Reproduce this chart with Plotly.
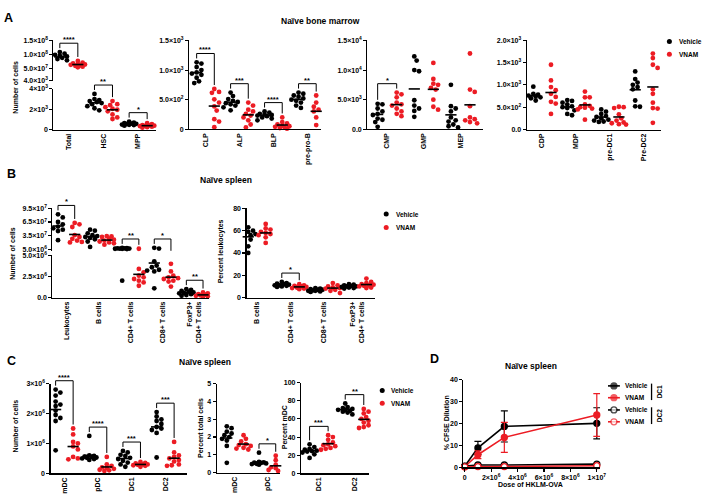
import plotly.graph_objects as go

W, H = 714, 501
FONT = "Liberation Sans, Arial, Helvetica, sans-serif"
RED = "#ec1c24"
BLACK = "#000000"

# ===================== DATA =====================
GROUPS = ["Vehicle", "VNAM"]

# ---- Panel A : naive bone marrow (number of cells) ----
A1_CATS = ["Total", "HSC", "MPP"]
A1_VEH = [
    [1.08e8, 1.02e8, 9.8e7, 9.5e7, 9.2e7, 9.0e7, 8.7e7, 8.3e7, 7.8e7, 7.2e7],
    [3500, 3000, 2900, 2800, 2700, 2600, 2500, 2300, 2100, 1900],
    [800, 700, 650, 600, 580, 550, 500, 480, 450, 400],
]
A1_VNAM = [
    [7.6e7, 7.0e7, 6.7e7, 6.5e7, 6.3e7, 6.2e7, 6.0e7, 5.8e7, 5.5e7, 5.3e7],
    [2800, 2500, 2400, 2200, 2050, 1950, 1800, 1500, 1200, 1050],
    [650, 550, 450, 420, 400, 380, 350, 300, 250, 200],
]
A1_SIG = ["****", "**", "*"]
A1_LO_TICKVALS = [0, 2000, 4000]
A1_LO_TICKTEXT = ["0", "2×10<sup>3</sup>", "4×10<sup>3</sup>"]
A1_UP_TICKVALS = [5e7, 1e8, 1.5e8]
A1_UP_TICKTEXT = ["5.0×10<sup>7</sup>", "1.0×10<sup>8</sup>", "1.5×10<sup>8</sup>"]
A1_UP_BASE_TEXT = "4.0×10<sup>3</sup>"

A2_CATS = ["CLP", "ALP", "BLP", "pre-pro-B"]
A2_VEH = [
    [1130, 1110, 1050, 1000, 960, 940, 920, 870, 810, 780],
    [620, 560, 510, 480, 460, 440, 420, 400, 370, 320],
    [300, 280, 260, 250, 240, 230, 220, 200, 180, 150],
    [620, 600, 570, 550, 520, 500, 480, 450, 400, 360],
]
A2_VNAM = [
    [680, 630, 615, 505, 450, 385, 315, 170, 130, 35],
    [450, 400, 330, 300, 260, 230, 200, 150, 80, 30],
    [200, 120, 100, 80, 60, 50, 40, 30, 20, 10],
    [570, 450, 420, 380, 330, 300, 280, 200, 70, 30],
]
A2_SIG = ["****", "***", "****", "**"]
A2_TICKVALS = [0, 500, 1000, 1500]
A2_TICKTEXT = ["0", "5.0×10<sup>2</sup>", "1.0×10<sup>3</sup>", "1.5×10<sup>3</sup>"]

A3_CATS = ["CMP", "GMP", "MEP"]
A3_VEH = [
    [4300, 4200, 3500, 3000, 2600, 2400, 1800, 1600, 1200, 400],
    [12300, 11600, 10000, 9800, 4900, 4000, 3500, 3100, 2100],
    [7500, 3900, 3500, 3000, 2000, 1500, 1300, 800, 500, 300],
]
A3_VNAM = [
    [6200, 5900, 5400, 4500, 4200, 4000, 3500, 3000, 2600, 2200],
    [11200, 8500, 7700, 7500, 7000, 6700, 5000, 3800, 3300],
    [12800, 6700, 6300, 3900, 2000, 1700, 1500, 1200, 1000],
]
A3_SIG = ["*", "", ""]
A3_TICKVALS = [0, 5000, 10000, 15000]
A3_TICKTEXT = ["0.0", "5.0×10<sup>3</sup>", "1.0×10<sup>4</sup>", "1.5×10<sup>4</sup>"]

A4_CATS = ["CDP", "MDP", "pre-DC1", "Pre-DC2"]
A4_VEH = [
    [960, 800, 780, 760, 740, 720, 700, 680, 650],
    [660, 640, 600, 560, 520, 500, 480, 430, 350, 320],
    [450, 400, 350, 300, 280, 250, 220, 200, 180, 170],
    [1300, 1130, 1050, 1000, 950, 900, 650, 520, 510],
]
A4_VNAM = [
    [1450, 1100, 950, 880, 800, 730, 620, 580, 350],
    [850, 720, 720, 560, 530, 500, 490, 470, 450, 220],
    [510, 500, 480, 340, 250, 200, 160, 140, 120, 110],
    [1700, 1600, 1450, 1380, 900, 800, 600, 480, 470, 150],
]
A4_SIG = ["", "", "", ""]
A4_TICKVALS = [0, 500, 1000, 1500, 2000]
A4_TICKTEXT = ["0.0", "5.0×10<sup>2</sup>", "1.0×10<sup>3</sup>", "1.5×10<sup>3</sup>", "2.0×10<sup>3</sup>"]

# ---- Panel B : naive spleen ----
B1_CATS = ["Leukocytes", "B cells", "CD4+ T cells", "CD8+ T cells", "FoxP3+<br>CD4+ T cells"]
B1_VEH = [
    [8.2e7, 7.5e7, 6.5e7, 6.0e7, 5.5e7, 5.1e7, 4.8e7, 4.5e7, 2.5e7],
    [4.8e7, 4.6e7, 4.0e7, 3.6e7, 3.4e7, 3.2e7, 3.0e7, 2.7e7, 2.2e7, 1.0e7],
    [8.0e6, 7.5e6, 7.0e6, 6.8e6, 6.5e6, 6.2e6, 6.0e6, 5.8e6, 5.5e6, 2.0e6],
    [8.0e6, 6.5e6, 4.3e6, 3.8e6, 3.6e6, 3.3e6, 3.2e6, 3.1e6, 1.1e6],
    [1.0e6, 0.9e6, 0.8e6, 0.7e6, 0.6e6, 0.55e6, 0.5e6, 0.4e6, 0.3e6, 0.2e6],
]
B1_VNAM = [
    [6.3e7, 6.0e7, 5.4e7, 3.6e7, 3.2e7, 2.8e7, 2.4e7, 2.1e7, 2.0e7],
    [3.4e7, 3.3e7, 3.2e7, 2.8e7, 2.6e7, 2.4e7, 2.2e7, 2.0e7, 1.8e7, 1.5e7],
    [6.0e6, 3.4e6, 3.0e6, 2.6e6, 2.4e6, 2.2e6, 2.0e6, 1.8e6, 1.4e6],
    [4.0e6, 3.1e6, 2.6e6, 2.4e6, 2.3e6, 2.2e6, 2.0e6, 1.9e6, 1.3e6],
    [0.6e6, 0.5e6, 0.4e6, 0.35e6, 0.3e6, 0.25e6, 0.2e6, 0.15e6, 0.1e6],
]
B1_SIG = ["*", "", "**", "*", "**"]
B1_LO_TICKVALS = [0, 2.5e6, 5e6]
B1_LO_TICKTEXT = ["0.0", "2.5×10<sup>6</sup>", "5.0×10<sup>6</sup>"]
B1_UP_TICKVALS = [5e6, 3.5e7, 6.5e7, 9.5e7]
B1_UP_TICKTEXT = ["5.0×10<sup>6</sup>", "3.5×10<sup>7</sup>", "6.5×10<sup>7</sup>", "9.5×10<sup>7</sup>"]

B2_CATS = ["B cells", "CD4+ T cells", "CD8+ T cells", "FoxP3+<br>CD4+ T cells"]
B2_VEH = [
    [63, 60, 59, 58, 57, 56, 54, 52, 46, 40],
    [14, 13, 12.5, 12, 11.5, 11, 11, 10.5, 10, 9.5],
    [8.5, 8, 7.5, 7, 7, 6.5, 6, 6, 5.5, 5],
    [12, 11.5, 11, 10.5, 10, 10, 9.5, 9, 8.5, 8],
]
B2_VNAM = [
    [66, 62, 61, 59, 58, 57, 56, 54, 49],
    [12, 11, 10.5, 10, 9.5, 9, 8.5, 8, 7.5],
    [13, 11, 10, 9, 8.5, 8, 7, 6, 4],
    [17, 14, 13, 12, 11.5, 11, 10.5, 10, 9, 8.5],
]
B2_SIG = ["", "*", "", ""]
B2_TICKVALS = [0, 20, 40, 60, 80]
B2_TICKTEXT = ["0", "20", "40", "60", "80"]

# ---- Panel C : naive spleen DCs ----
C1_CATS = ["mDC", "pDC", "DC1", "DC2"]
C1_VEH = [
    [2.8e6, 2.7e6, 2.6e6, 2.4e6, 2.3e6, 2.25e6, 2.1e6, 1.95e6, 1.85e6, 1.75e6, 0.77e6],
    [1.25e6, 0.6e6, 0.58e6, 0.56e6, 0.55e6, 0.53e6, 0.52e6, 0.5e6, 0.48e6, 0.45e6],
    [0.75e6, 0.7e6, 0.62e6, 0.58e6, 0.52e6, 0.48e6, 0.42e6, 0.36e6, 0.3e6, 0.22e6],
    [2.05e6, 1.9e6, 1.8e6, 1.75e6, 1.65e6, 1.55e6, 1.5e6, 1.45e6, 1.35e6, 0.53e6],
]
C1_VNAM = [
    [1.5e6, 1.3e6, 1.05e6, 1.0e6, 0.9e6, 0.8e6, 0.55e6, 0.5e6, 0.47e6],
    [0.55e6, 0.3e6, 0.25e6, 0.2e6, 0.18e6, 0.15e6, 0.12e6, 0.1e6, 0.08e6],
    [0.38e6, 0.35e6, 0.33e6, 0.3e6, 0.3e6, 0.28e6, 0.27e6, 0.25e6, 0.22e6],
    [1.05e6, 0.7e6, 0.6e6, 0.55e6, 0.5e6, 0.45e6, 0.4e6, 0.3e6, 0.27e6, 0.25e6],
]
C1_SIG = ["****", "****", "***", "***"]
C1_TICKVALS = [0, 1e6, 2e6, 3e6]
C1_TICKTEXT = ["0", "1×10<sup>6</sup>", "2×10<sup>6</sup>", "3×10<sup>6</sup>"]

C2_CATS = ["mDC", "pDC"]
C2_VEH = [
    [2.6, 2.5, 2.3, 2.2, 2.1, 2.0, 1.9, 1.8, 1.5, 0.55],
    [1.12, 0.6, 0.58, 0.56, 0.55, 0.52, 0.5, 0.48, 0.45],
]
C2_VNAM = [
    [2.1, 1.9, 1.75, 1.6, 1.55, 1.5, 1.4, 1.35, 1.3],
    [0.95, 0.7, 0.45, 0.35, 0.3, 0.25, 0.2, 0.15, 0.1],
]
C2_SIG = ["", "*"]
C2_TICKVALS = [0, 1, 2, 3, 4, 5]
C2_TICKTEXT = ["0", "1", "2", "3", "4", "5"]

C3_CATS = ["DC1", "DC2"]
C3_VEH = [
    [32, 29, 27, 26, 25, 24.5, 24, 23, 21, 17],
    [77, 73, 72, 71, 70, 70, 69, 68, 67, 65],
]
C3_VNAM = [
    [42, 40, 37, 34, 32, 31, 30, 28, 27, 26],
    [71, 68, 66, 62, 60, 58, 56, 53, 51, 50],
]
C3_SIG = ["***", "**"]
C3_TICKVALS = [0, 20, 40, 60, 80, 100]
C3_TICKTEXT = ["0", "20", "40", "60", "80", "100"]

# ---- Panel D : CFSE dilution vs dose ----
D_DOSE = [0, 1e6, 3e6, 1e7]
D_DC1_VEH = [0.5, 8.9, 18.7, 20.1]
D_DC1_VEH_ERR = [0.3, 3.0, 7.1, 7.1]
D_DC1_VNAM = [0.3, 5.8, 13.7, 23.9]
D_DC1_VNAM_ERR = [0.2, 1.8, 6.8, 9.7]
D_DC2_VEH = [0.6, 1.1, 1.1, 1.5]
D_DC2_VEH_ERR = [0.2, 0.3, 0.3, 0.3]
D_DC2_VNAM = [0.3, 0.4, 0.4, 0.8]
D_DC2_VNAM_ERR = [0.1, 0.2, 0.2, 0.3]
D_XTICKVALS = [0, 2e6, 4e6, 6e6, 8e6, 1e7]
D_XTICKTEXT = ["0", "2×10<sup>6</sup>", "4×10<sup>6</sup>", "6×10<sup>6</sup>", "8×10<sup>6</sup>", "1×10<sup>7</sup>"]
D_YTICKVALS = [0, 10, 20, 30, 40]
D_YTICKTEXT = ["0", "10", "20", "30", "40"]
D_LEGEND = ["Vehicle", "VNAM", "Vehicle", "VNAM"]

# ===================== HELPERS =====================
fig = go.Figure()
LAYOUT = {}
ANN = []
SHAPES = []
OFF = 0.26     # group offset from category centre (category units)
DOT = 4.8      # marker diameter in px

AXIS_BASE = dict(showgrid=False, zeroline=False, showline=True, linecolor=BLACK, linewidth=1.2,
                 ticks="outside", ticklen=3, tickwidth=1.1, tickcolor=BLACK, fixedrange=True,
                 tickfont=dict(family=FONT, size=7, color=BLACK, weight="bold"))
cnt = {"x": 0, "y": 0}


def akey(ref):
    return ref[0] + "axis" + ref[1:]


def new_axis(kind, **kw):
    cnt[kind] += 1
    n = cnt[kind]
    ref = kind + ("" if n == 1 else str(n))
    d = dict(AXIS_BASE)
    d.update(kw)
    LAYOUT[akey(ref)] = d
    return ref


class YSeg:
    def __init__(self, va, pa, vb, pb, top, bot):
        self.va, self.pa = va, pa
        self.k = (vb - va) / (pb - pa)
        self.top, self.bot = top, bot
        self.lo = self.val(bot)
        self.hi = self.val(top)

    def val(self, p):
        return self.va + (p - self.pa) * self.k

    def px(self, v):
        return self.pa + (v - self.va) / self.k


def text(x, y, s, size=7.0, xanchor="center", yanchor="middle", angle=0, color=BLACK):
    ANN.append(dict(x=x / W, y=1 - y / H, xref="paper", yref="paper", text=s, showarrow=False,
                    xanchor=xanchor, yanchor=yanchor, textangle=angle,
                    font=dict(family=FONT, size=size, color=color, weight="bold")))


def swarm_offsets(ypx, d=DOT * 0.9, step=DOT * 0.5, maxk=3):
    order = sorted(range(len(ypx)), key=lambda i: ypx[i])
    cands = [0.0]
    for k in range(1, maxk + 1):
        cands += [k * step, -k * step]
    placed, offs = [], [0.0] * len(ypx)
    for i in order:
        y = ypx[i]
        best, bestd = 0.0, -1.0
        for c in cands:
            md = min([((c - px) ** 2 + (y - py) ** 2) ** 0.5 for px, py in placed] or [1e9])
            if md >= d:
                best = c
                break
            if md > bestd:
                bestd, best = md, c
        offs[i] = best
        placed.append((best, y))
    return offs


def strip_panel(cats, veh, vnam, sig, xl, xr, c0, sp, segspec, thr=None, base_text=None):
    n = len(cats)
    segs = []
    for (va, pa, vb, pb), (top, bot), tv, tt in segspec:
        s = YSeg(va, pa, vb, pb, top, bot)
        tv, tt = list(tv), list(tt)
        if base_text is not None and len(segs) == 1:
            tv = [s.lo + (s.hi - s.lo) * 1e-4] + tv
            tt = [base_text] + tt
        s.ref = new_axis("y", domain=[1 - bot / H, 1 - top / H], range=[s.lo, s.hi],
                         tickvals=tv, ticktext=tt)
        segs.append(s)
    xref = new_axis("x", domain=[xl / W, xr / W], range=[(xl - c0) / sp, (xr - c0) / sp],
                    tickvals=list(range(n)), ticktext=cats, tickangle=-90, ticks="",
                    tickfont=dict(family=FONT, size=7, color=BLACK, weight="bold"),
                    anchor=segs[0].ref)
    for s in segs:
        LAYOUT[akey(s.ref)]["anchor"] = xref

    def seg_of(v):
        return segs[-1] if (thr is not None and v > thr) else segs[0]

    def xpx(xv):
        return c0 + xv * sp

    for i in range(n):
        maxes = []
        for vals, pos, color in ((veh[i], i - OFF, BLACK), (vnam[i], i + OFF, RED)):
            ypx = [seg_of(v).px(v) for v in vals]
            offs = swarm_offsets(ypx)
            for s in segs:
                idx = [j for j, v in enumerate(vals) if seg_of(v) is s]
                if not idx:
                    continue
                fig.add_trace(go.Scatter(
                    x=[pos + offs[j] / sp for j in idx], y=[vals[j] for j in idx],
                    xaxis=xref, yaxis=s.ref, mode="markers", cliponaxis=False,
                    marker=dict(size=DOT, color=color, line=dict(width=0)),
                    hoverinfo="skip", showlegend=False))
            m = sum(vals) / len(vals)
            fig.add_trace(go.Scatter(
                x=[pos], y=[m], xaxis=xref, yaxis=seg_of(m).ref, mode="markers", cliponaxis=False,
                marker=dict(symbol="line-ew", size=8, line=dict(width=1.6, color=BLACK)),
                hoverinfo="skip", showlegend=False))
            maxes.append(max(vals))
        if sig[i]:
            top = max(maxes)
            stop = seg_of(top)
            level = stop.px(top) - 9

            def leg(mv):
                s = seg_of(mv)
                return s.px(mv) - 4 if s is stop else stop.bot

            x1, x2 = xpx(i - OFF), xpx(i + OFF)
            y1, y2 = leg(maxes[0]), leg(maxes[1])
            p = lambda x, y: f"{x / W:.5f},{1 - y / H:.5f}"
            SHAPES.append(dict(type="path", xref="paper", yref="paper",
                               path=f"M{p(x1, y1)} L{p(x1, level)} L{p(x2, level)} L{p(x2, y2)}",
                               line=dict(color=BLACK, width=1)))
            ANN.append(dict(x=(x1 + x2) / 2 / W, y=1 - level / H, xref="paper", yref="paper",
                            text=sig[i], showarrow=False, xanchor="center", yanchor="bottom",
                            yshift=-3, font=dict(family=FONT, size=7.5, color=BLACK, weight="bold")))


# ===================== PANELS =====================
# A
strip_panel(A1_CATS, A1_VEH, A1_VNAM, A1_SIG, 53, 157, 68.5, 35,
            [((0, 127.5, 4000, 86), (86, 127.5), A1_LO_TICKVALS, A1_LO_TICKTEXT),
             ((5e7, 65, 1.5e8, 37), (37, 78), A1_UP_TICKVALS, A1_UP_TICKTEXT)],
            thr=4000, base_text=A1_UP_BASE_TEXT)
strip_panel(A2_CATS, A2_VEH, A2_VNAM, A2_SIG, 190, 323, 206.5, 34.3,
            [((0, 127, 1500, 37), (37, 127), A2_TICKVALS, A2_TICKTEXT)])
strip_panel(A3_CATS, A3_VEH, A3_VNAM, A3_SIG, 370, 487, 390, 37,
            [((0, 127, 15000, 37), (37, 127), A3_TICKVALS, A3_TICKTEXT)])
strip_panel(A4_CATS, A4_VEH, A4_VNAM, A4_SIG, 531, 667, 546.5, 34.3,
            [((0, 127.3, 2000, 36.7), (36.7, 127.3), A4_TICKVALS, A4_TICKTEXT)])
# B
strip_panel(B1_CATS, B1_VEH, B1_VNAM, B1_SIG, 52, 210, 66, 32.4,
            [((0, 297.7, 5e6, 255), (255, 297.7), B1_LO_TICKVALS, B1_LO_TICKTEXT),
             ((5e6, 248.7, 9.5e7, 207.3), (207.3, 250.3), B1_UP_TICKVALS, B1_UP_TICKTEXT)],
            thr=5e6)
strip_panel(B2_CATS, B2_VEH, B2_VNAM, B2_SIG, 248, 378, 258.5, 33.9,
            [((0, 297.7, 80, 207.3), (207.3, 297.7), B2_TICKVALS, B2_TICKTEXT)])
# C
strip_panel(C1_CATS, C1_VEH, C1_VNAM, C1_SIG, 50, 188, 64, 34,
            [((0, 476, 3e6, 385), (385, 476), C1_TICKVALS, C1_TICKTEXT)])
strip_panel(C2_CATS, C2_VEH, C2_VNAM, C2_SIG, 218, 282, 236.5, 32.5,
            [((0, 475.3, 5, 385), (385, 475.3), C2_TICKVALS, C2_TICKTEXT)])
strip_panel(C3_CATS, C3_VEH, C3_VNAM, C3_SIG, 303, 372, 321, 36,
            [((0, 476, 100, 384), (384, 476), C3_TICKVALS, C3_TICKTEXT)])

# D line chart
dxl, dxr, d0px, d1px = 467, 605, 468.3, 601.7
dk = 1e7 / (d1px - d0px)
dy = new_axis("y", domain=[1 - 470 / H, 1 - 381 / H], range=[0, 40],
              tickvals=D_YTICKVALS, ticktext=D_YTICKTEXT)
dx = new_axis("x", domain=[dxl / W, dxr / W], range=[(dxl - d0px) * dk, (dxr - d0px) * dk],
              tickvals=D_XTICKVALS, ticktext=D_XTICKTEXT, anchor=dy)
LAYOUT[akey(dy)]["anchor"] = dx
for yv, ev, col, filled in ((D_DC1_VEH, D_DC1_VEH_ERR, BLACK, True),
                            (D_DC1_VNAM, D_DC1_VNAM_ERR, RED, True),
                            (D_DC2_VEH, D_DC2_VEH_ERR, BLACK, False),
                            (D_DC2_VNAM, D_DC2_VNAM_ERR, RED, False)):
    fig.add_trace(go.Scatter(
        x=D_DOSE, y=yv, xaxis=dx, yaxis=dy, mode="lines+markers", cliponaxis=False,
        line=dict(color=col, width=1.6),
        marker=dict(size=6, color=col if filled else "white", line=dict(color=col, width=1.3)),
        error_y=dict(type="data", array=ev, color=col, thickness=1.2, width=3.5),
        hoverinfo="skip", showlegend=False))

# canvas axis (pixel coordinates) for legend glyphs
cy = new_axis("y", domain=[0, 1], range=[H, 0], visible=False)
cx = new_axis("x", domain=[0, 1], range=[0, W], visible=False, anchor=cy)
LAYOUT[akey(cy)]["anchor"] = cx


def legend_dots(x, ys, labels, tx):
    for yy, col, lab in zip(ys, (BLACK, RED), labels):
        fig.add_trace(go.Scatter(x=[x], y=[yy], xaxis=cx, yaxis=cy, mode="markers", cliponaxis=False,
                                 marker=dict(size=5, color=col), hoverinfo="skip", showlegend=False))
        text(tx, yy, lab, size=6.5, xanchor="left")


legend_dots(675, [38, 51], GROUPS, 683)
legend_dots(389, [213, 226.7], GROUPS, 397)
legend_dots(385, [392, 405], GROUPS, 392)

for yy, col, filled, lab in zip([387.3, 399.3, 411.7, 423.7], (BLACK, RED, BLACK, RED),
                                (True, True, False, False), D_LEGEND):
    fig.add_trace(go.Scatter(x=[613, 619, 625], y=[yy, yy, yy], xaxis=cx, yaxis=cy, mode="lines+markers",
                             cliponaxis=False, line=dict(color=col, width=1.6),
                             marker=dict(size=[0, 6, 0], color=col if filled else "white",
                                         line=dict(color=col, width=[0, 1.3, 0])),
                             hoverinfo="skip", showlegend=False))
    text(628, yy, lab, size=6.5, xanchor="left")
for (t, b), lab in (((385, 401.7), "DC1"), ((409, 426), "DC2")):
    SHAPES.append(dict(type="line", xref="paper", yref="paper", x0=657 / W, x1=657 / W,
                       y0=1 - t / H, y1=1 - b / H, line=dict(color=BLACK, width=1.3)))
    text(665, (t + b) / 2, lab, size=6.5, angle=-90)

# panel letters and titles
text(7.5, 13.7, "A", size=12.5)
text(11, 172.5, "B", size=12.5)
text(11, 362, "C", size=12.5)
text(438, 360, "D", size=12.5)
text(323, 17.3, "Naïve bone marrow", size=8.5)
text(227, 178, "Naïve spleen", size=8.5)
text(206, 363, "Naïve spleen", size=8.5)
text(535, 366.7, "Naïve spleen", size=8.5)

# axis titles
text(15, 84, "Number of cells", size=7, angle=-90)
text(11.5, 253, "Number of cells", size=7, angle=-90)
text(223, 251, "Percent leukocytes", size=7, angle=-90)
text(14.5, 428, "Number of cells", size=7, angle=-90)
text(202, 430, "Percent total cells", size=7, angle=-90)
text(286, 429, "Percent mDC", size=7, angle=-90)
text(449.5, 425, "% CFSE Dilution", size=7, angle=-90)
text(534.5, 487, "Dose of HKLM-OVA", size=7)

fig.update_layout(width=W, height=H, margin=dict(l=0, r=0, t=0, b=0), autosize=False,
                  paper_bgcolor="white", plot_bgcolor="rgba(0,0,0,0)", showlegend=False, hovermode=False,
                  font=dict(family=FONT, size=7, color=BLACK, weight="bold"),
                  annotations=ANN, shapes=SHAPES, **LAYOUT)
fig.write_html("out.html", config={"displayModeBar": False, "staticPlot": True},
               post_script="document.body.style.margin='0px';document.body.style.overflow='hidden';")
